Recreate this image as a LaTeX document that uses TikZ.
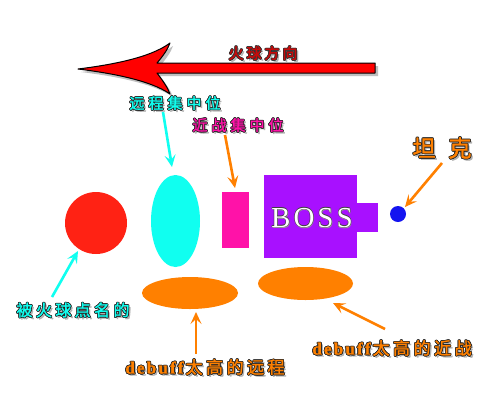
\documentclass[tikz,border=0pt]{standalone}
\usepackage{fontspec}
\setmainfont{Liberation Serif}
\newfontfamily\cjk{Noto Sans CJK SC}[FakeBold=1.5]
\newfontfamily\latb{Liberation Serif}[FakeBold=1.5]
\usetikzlibrary{arrows.meta,shapes.geometric}

\definecolor{cred}{RGB}{255,34,20}
\definecolor{ccyan}{RGB}{16,255,240}
\definecolor{cpink}{RGB}{255,18,168}
\definecolor{cpurple}{RGB}{168,16,255}
\definecolor{cblue}{RGB}{20,20,240}
\definecolor{corange}{RGB}{255,128,0}
\definecolor{cfiretxt}{RGB}{200,10,10}
\definecolor{carrow}{RGB}{255,0,0}

\makeatletter
\newcommand\lsp[2]{\def\lsp@amt{#1}\lsp@i#2\relax}
\def\lsp@i#1{\ifx#1\relax\unkern\else#1\kern\lsp@amt\relax\expandafter\lsp@i\fi}
\makeatother

\newcommand\fxl[4]{\rlap{\raisebox{#2}[0pt][0pt]{\kern#1\textcolor{#3}{#4}}}}
% fill, outline, text
\newcommand\fx[3]{%
  \fxl{2pt}{-2pt}{black!30}{#3}%
  \fxl{0.75pt}{0pt}{#2}{#3}\fxl{-0.75pt}{0pt}{#2}{#3}%
  \fxl{0pt}{0.75pt}{#2}{#3}\fxl{0pt}{-0.75pt}{#2}{#3}%
  \fxl{0.55pt}{0.55pt}{#2}{#3}\fxl{-0.55pt}{0.55pt}{#2}{#3}%
  \fxl{0.55pt}{-0.55pt}{#2}{#3}\fxl{-0.55pt}{-0.55pt}{#2}{#3}%
  \textcolor{#1}{#3}}
\newcommand\fxo[3]{%
  \fxl{0.6pt}{-0.6pt}{black!40}{#3}%
  \fxl{0.5pt}{0pt}{#2}{#3}\fxl{-0.5pt}{0pt}{#2}{#3}%
  \fxl{0pt}{0.5pt}{#2}{#3}\fxl{0pt}{-0.5pt}{#2}{#3}%
  \textcolor{#1}{#3}}

\tikzset{
  shapebox/.style={inner sep=0pt, outer sep=0pt, draw=none},
  ptr/.style={line width=2.6pt, -{Stealth[length=12pt,width=11pt,inset=5pt]}},
  cjk15/.style={font=\cjk\fontsize{15}{15}\selectfont, inner sep=0pt},
}

\begin{document}
\begin{tikzpicture}[x=1pt,y=-1pt]
\useasboundingbox (0,0) rectangle (502,400);
\fill[white] (0,0) rectangle (502,400);

% big fireball-direction arrow
\fill[black!25, shift={(3,3)}]
  (375,63) -- (157,63) .. controls (163,56) and (168,49) .. (170,43)
  .. controls (150,58) and (110,65) .. (78,69)
  .. controls (110,73) and (150,80) .. (170,94)
  .. controls (168,88) and (163,81) .. (157,73) -- (375,73) -- cycle;
\draw[fill=carrow, line width=1pt, line join=round]
  (375,63) -- (157,63) .. controls (163,56) and (168,49) .. (170,43)
  .. controls (150,58) and (110,65) .. (78,69)
  .. controls (110,73) and (150,80) .. (170,94)
  .. controls (168,88) and (163,81) .. (157,73) -- (375,73) -- cycle;

% shapes
\node[shapebox, circle, fill=cred, minimum size=62] (fireball) at (96,223) {};
\node[shapebox, ellipse, fill=ccyan, minimum width=49, minimum height=92] (ranged) at (175.5,221) {};
\node[shapebox, rectangle, fill=cpink, minimum width=27, minimum height=56] (melee) at (235.5,220) {};
\fill[cpurple] (355,203) rectangle (378,232);
\node[shapebox, rectangle, fill=cpurple, minimum width=93, minimum height=83] (boss) at (310.5,216.5) {};
\node[inner sep=0pt, font=\fontsize{29}{29}\selectfont] (bosstext) at (312,218) {\fxo{white}{black!75}{\lsp{3pt}{BOSS}}};
\node[shapebox, circle, fill=cblue, minimum size=16] (tank) at (398,214) {};
\node[shapebox, ellipse, fill=corange, minimum width=96, minimum height=32] (dbranged) at (190,293) {};
\node[shapebox, ellipse, fill=corange, minimum width=95, minimum height=33] (dbmelee) at (305.5,283.5) {};

% labels
\node[cjk15] (lfire) at (263,53) {\fx{cfiretxt}{black!80}{\lsp{3pt}{火球方向}}};
\node[cjk15] (lranged) at (175,103) {\fx{ccyan}{black!85}{\lsp{4pt}{远程集中位}}};
\node[cjk15] (lmelee) at (238,125) {\fx{cpink}{black!85}{\lsp{4pt}{近战集中位}}};
\node[inner sep=0pt, font=\cjk\fontsize{23}{23}\selectfont] (ltank) at (442,148) {\fx{corange}{black!85}{\lsp{13pt}{坦克}}};
\node[inner sep=0pt, font=\cjk\fontsize{16}{16}\selectfont] (lfireball) at (73,310) {\fx{ccyan}{black!85}{\lsp{3.4pt}{被火球点名的}}};
\node[inner sep=0pt, font=\cjk\fontsize{17}{17}\selectfont] (ldbranged) at (205,367) {\fx{corange}{black!85}{{\latb\bfseries\lsp{2.2pt}{debuff}}\kern2pt\lsp{3.5pt}{太高的远程}}};
\node[inner sep=0pt, font=\cjk\fontsize{17}{17}\selectfont] (ldbmelee) at (392,348) {\fx{corange}{black!85}{{\latb\bfseries\lsp{2.2pt}{debuff}}\kern2pt\lsp{3.5pt}{太高的近战}}};

% connector end points
\coordinate (a1s) at (163,112); \coordinate (a1e) at (172,167);
\coordinate (a2s) at (225,135); \coordinate (a2e) at (235,188);
\coordinate (a3s) at (442,163); \coordinate (a3e) at (405,207);
\coordinate (a4s) at (52,297);  \coordinate (a4e) at (78,251);
\coordinate (a5s) at (196,354); \coordinate (a5e) at (196,312);
\coordinate (a6s) at (385,329); \coordinate (a6e) at (333,303);

\draw[ptr, ccyan] (a1s) -- (a1e);
\draw[ptr, corange] (a2s) -- (a2e);
\draw[ptr, corange] (a3s) -- (a3e);
\draw[ptr, ccyan] (a4s) -- (a4e);
\draw[ptr, corange] (a5s) -- (a5e);
\draw[ptr, corange] (a6s) -- (a6e);
\end{tikzpicture}
\end{document}
